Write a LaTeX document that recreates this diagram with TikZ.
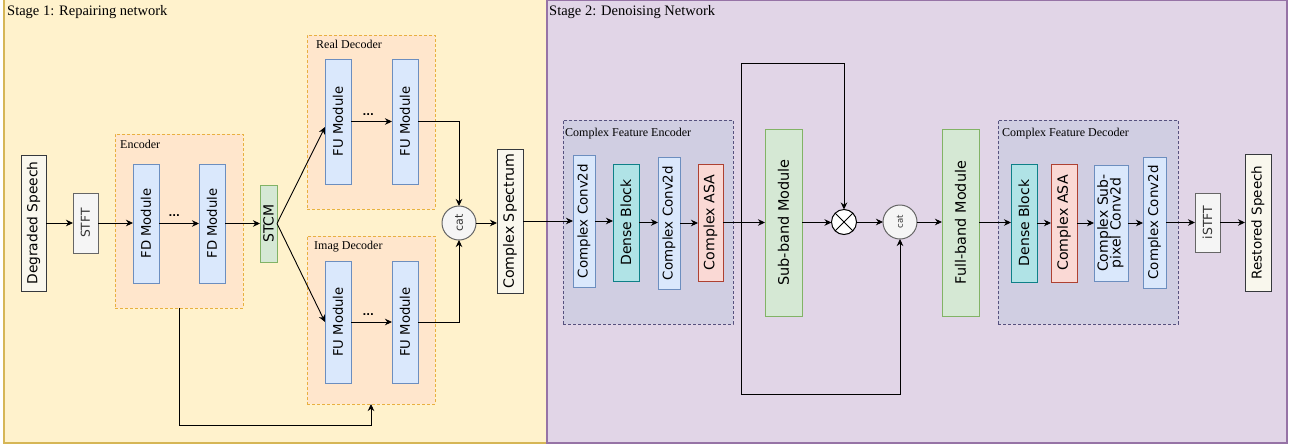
\documentclass[tikz,border=0pt]{standalone}
\usepackage{fontspec}
\setmainfont{Liberation Serif}
\newfontfamily\boxfont{DejaVu Sans}
\usepackage{graphicx}
\usetikzlibrary{arrows.meta,calc}
\definecolor{sAfill}{HTML}{FFF2CC}\definecolor{sAline}{HTML}{D6B656}
\definecolor{sBfill}{HTML}{E1D5E7}\definecolor{sBline}{HTML}{9673A6}
\definecolor{gfill}{HTML}{FFE6CC}\definecolor{gline}{HTML}{E8B040}
\definecolor{cfill}{HTML}{D0CEE2}\definecolor{cline}{HTML}{56517E}
\definecolor{mfill}{HTML}{DAE8FC}\definecolor{mline}{HTML}{6C8EBF}
\definecolor{nfill}{HTML}{D5E8D4}\definecolor{nline}{HTML}{82B366}
\definecolor{dfill}{HTML}{B0E3E6}\definecolor{dline}{HTML}{0E8088}
\definecolor{afill}{HTML}{FAD9D5}\definecolor{aline}{HTML}{AE4132}
\definecolor{ifill}{HTML}{F9F7ED}\definecolor{iline}{HTML}{36393D}
\definecolor{yfill}{HTML}{F5F5F5}\definecolor{yline}{HTML}{666666}
\definecolor{ytext}{HTML}{333333}
% name x1 y1 x2 y2 style size text
\newcommand\rbox[8]{%
  \node[box,#6,minimum width={(#4-#2)*1pt},minimum height={(#5-#3)*1pt}] (#1) at ({(#2+#4)/2},{(#3+#5)/2})
  {\fontsize{#7}{#7}\selectfont\rotatebox{90}{#8}};}
% container: name x1 y1 x2 y2 style
\newcommand\cbox[6]{%
  \node[#6,rectangle,inner sep=0pt,outer sep=0pt,minimum width={(#4-#2)*1pt},minimum height={(#5-#3)*1pt}] (#1) at ({(#2+#4)/2},{(#3+#5)/2}) {};}
\begin{document}
\begin{tikzpicture}[x=1pt,y=-1pt,
  box/.style={rectangle,draw,line width=1pt,inner sep=0pt,outer sep=0pt,font=\boxfont},
  stageA/.style={draw=sAline,fill=sAfill,line width=1.2pt},
  stageB/.style={draw=sBline,fill=sBfill,line width=1.2pt},
  grp/.style={draw=gline,fill=gfill,line width=1pt,dash pattern=on 3pt off 2pt},
  cgrp/.style={draw=cline,fill=cfill,line width=0.8pt,dash pattern=on 3pt off 2pt},
  mod/.style={draw=mline,fill=mfill},
  grn/.style={draw=nline,fill=nfill},
  dense/.style={draw=dline,fill=dfill},
  asa/.style={draw=aline,fill=afill},
  io/.style={draw=iline,fill=ifill},
  gry/.style={draw=yline,fill=yfill,text=ytext},
  title/.style={anchor=base west,inner sep=0pt,font=\fontsize{14.5}{16}\selectfont},
  sub/.style={anchor=base west,inner sep=0pt,font=\fontsize{12}{14}\selectfont},
  catc/.style={circle,draw=yline,fill=yfill,text=ytext,line width=1pt,inner sep=0pt,outer sep=0pt,minimum size=34pt,font=\boxfont},
  dots/.style={anchor=base,inner sep=0pt,font=\boxfont\bfseries\fontsize{10}{10}\selectfont},
  arr/.style={draw=black,line width=0.9pt,-{Stealth[length=7pt,width=6.5pt,inset=2.2pt]}},
  ln/.style={draw=black,line width=0.9pt}
]
\path[use as bounding box] (0,0) rectangle (1298,445);
% stages
\cbox{s1}{4}{-1}{547}{443}{stageA}
\cbox{s2}{547}{0.6}{1287}{443}{stageB}
\node[title] (t1) at (7,15.5) {Stage 1: Repairing network};
\node[title] (t2) at (549,15.5) {Stage 2: Denoising Network};
% groups
\cbox{enc}{115}{134}{243}{308}{grp}
\node[sub] (encl) at (120,148) {Encoder};
\cbox{rdec}{307}{35}{435}{209}{grp}
\node[sub] (rdecl) at (316,48) {Real Decoder};
\cbox{idec}{307}{236}{435}{404}{grp}
\node[sub] (idecl) at (314,249) {Imag Decoder};
\cbox{cfe}{563}{120}{733}{324}{cgrp}
\node[sub] (cfel) at (565,136) {Complex Feature Encoder};
\cbox{cfd}{998}{120}{1178}{324}{cgrp}
\node[sub] (cfdl) at (1002,136) {Complex Feature Decoder};
% stage 1 boxes
\rbox{ds}{21}{155}{46}{291}{io}{13.8}{Degraded Speech}
\rbox{stft}{73}{193}{98}{253}{gry}{12.3}{STFT}
\rbox{fd1}{133}{164}{159}{283}{mod}{13.2}{FD Module}
\rbox{fd2}{199}{164}{225}{283}{mod}{13.2}{FD Module}
\rbox{stcm}{260}{185}{277}{262}{grn}{14}{STCM}
\rbox{fu1r}{325}{59}{351}{184}{mod}{13.2}{FU Module}
\rbox{fu2r}{392}{59}{418}{184}{mod}{13.2}{FU Module}
\rbox{fu1i}{325}{261}{351}{383}{mod}{13.2}{FU Module}
\rbox{fu2i}{392}{261}{418}{383}{mod}{13.2}{FU Module}
\node[catc] (cat1) at (459,223) {\fontsize{11}{11}\selectfont\rotatebox{90}{cat}};
\rbox{cs}{497}{149}{523}{293}{io}{14.2}{Complex Spectrum}
% stage 2 boxes
\rbox{cc1}{573}{155}{595}{287}{mod}{13.4}{Complex Conv2d}
\rbox{db1}{613}{164}{639}{281}{dense}{14}{Dense Block}
\rbox{cc2}{658}{157}{680}{289}{mod}{13.4}{Complex Conv2d}
\rbox{asa1}{698}{164}{723}{281}{asa}{14.2}{Complex ASA}
\rbox{sub}{765}{129}{802}{316}{grn}{14.5}{Sub-band Module}
\node[circle,draw=black,fill=white,line width=1pt,inner sep=0pt,outer sep=0pt,minimum size=25pt] (mult) at (844,222) {};
\draw[line width=1pt] (mult.north east) -- (mult.south west) (mult.north west) -- (mult.south east);
\node[catc] (cat2) at (900,222) {\fontsize{8.5}{8.5}\selectfont\rotatebox{90}{cat}};
\rbox{full}{942}{129}{979}{316}{grn}{14.4}{Full-band Module}
\rbox{db2}{1011}{164}{1037}{282}{dense}{14}{Dense Block}
\rbox{asa2}{1051}{164}{1077}{282}{asa}{14.2}{Complex ASA}
\rbox{spc}{1094}{165}{1128}{281}{mod}{14}{\begin{tabular}{@{}c@{}}Complex Sub-\\[-2pt]pixel Conv2d\end{tabular}}
\rbox{cc3}{1143}{157}{1166}{288}{mod}{13.4}{Complex Conv2d}
\rbox{istft}{1195}{193}{1220}{252}{gry}{12.5}{iSTFT}
\rbox{rs}{1245}{154}{1271}{291}{io}{13.5}{Restored Speech}
% connectors stage 1
\draw[arr] (ds.east) -- (ds.east -| stft.west);
\draw[arr] (stft.east) -- (stft.east -| fd1.west);
\draw[arr] (fd1.east) -- node[dots,pos=0.38,yshift=7pt]{...} (fd1.east -| fd2.west);
\draw[arr] (fd2.east) -- (fd2.east -| stcm.west);
\draw[arr] (stcm.east) -- ([yshift=-5.5pt]fu1r.west);
\draw[arr] (stcm.east) -- (fu1i.west);
\draw[arr] (fu1r.east) -- node[dots,pos=0.42,yshift=6pt]{...} (fu1r.east -| fu2r.west);
\draw[arr] (fu1i.east) -- node[dots,pos=0.42,yshift=7pt]{...} (fu1i.east -| fu2i.west);
\draw[arr] (fu2r.east) -| (cat1.north);
\draw[arr] (fu2i.east) -| (cat1.south);
\draw[arr] (cat1.east) -- (cat1.east -| cs.west);
\coordinate (elb) at (179,425);
\draw[arr] (enc.south) -- (elb) -| (idec.south);
% connectors stage 2
\draw[arr] (cs.east) -- (cs.east -| cc1.west);
\draw[arr] (cc1.east) -- (cc1.east -| db1.west);
\draw[arr] (db1.east) -- (db1.east -| cc2.west);
\draw[arr] (cc2.east) -- (cc2.east -| asa1.west);
\draw[arr] (asa1.east) -- (asa1.east -| sub.west);
\coordinate (br) at (741,222.5);
\coordinate (lt) at (741,63);
\coordinate (lb) at (741,394);
\draw[arr] (br) -- (lt) -| (mult.north);
\draw[arr] (br) -- (lb) -| (cat2.south);
\draw[arr] (sub.east) -- (sub.east -| mult.west);
\draw[arr] (mult.east) -- (mult.east -| cat2.west);
\draw[arr] (cat2.east) -- (cat2.east -| full.west);
\draw[arr] (full.east) -- (full.east -| db2.west);
\draw[arr] (db2.east) -- (db2.east -| asa2.west);
\draw[arr] (asa2.east) -- (asa2.east -| spc.west);
\draw[arr] (spc.east) -- (spc.east -| cc3.west);
\draw[arr] (cc3.east) -- (cc3.east -| istft.west);
\draw[arr] (istft.east) -- (istft.east -| rs.west);
\end{tikzpicture}
\end{document}
